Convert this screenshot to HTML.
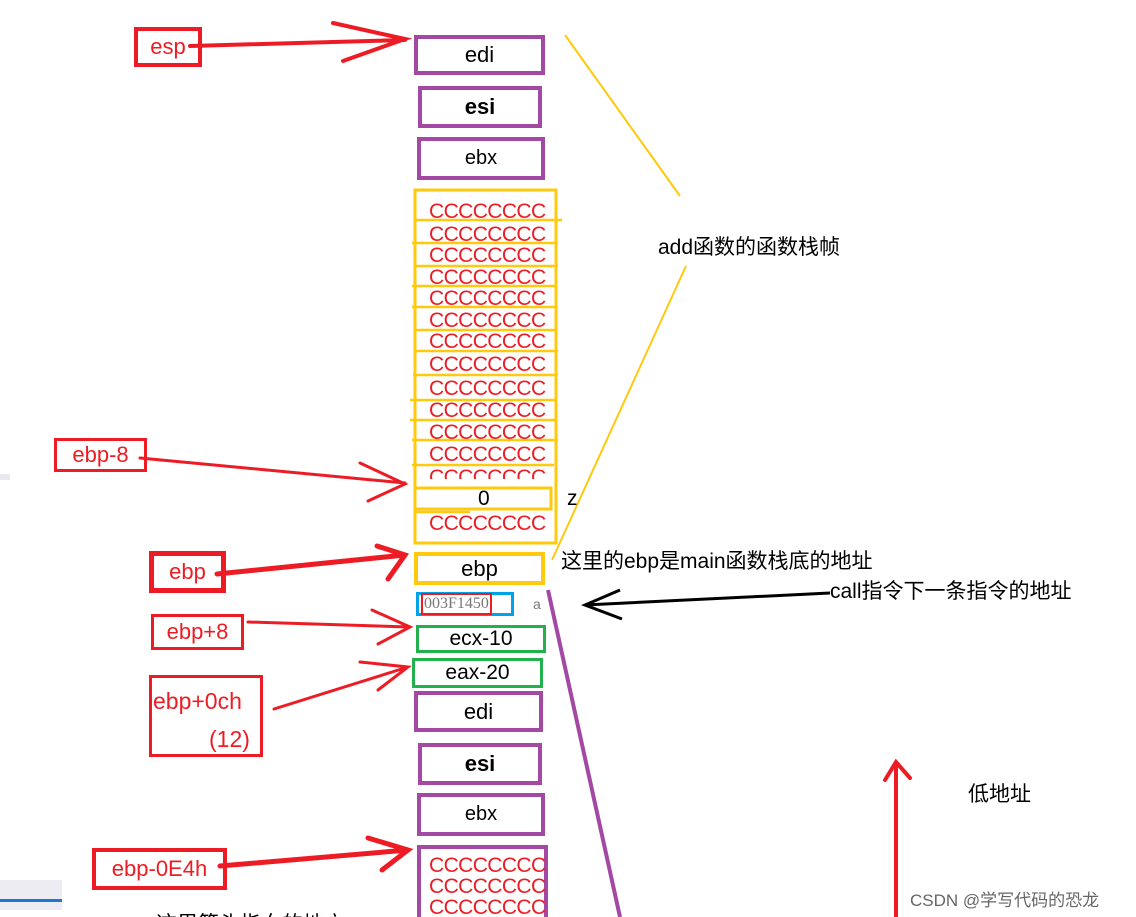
<!DOCTYPE html>
<html><head><meta charset="utf-8"><style>
html,body{margin:0;width:1136px;height:917px;overflow:hidden}
body{background:#fff;position:relative;font-family:"Liberation Sans","Noto Sans CJK SC",sans-serif}
.b{position:absolute;box-sizing:border-box;display:flex;align-items:center;justify-content:center;font-size:22px;color:#000}
.p{border:4px solid #a349a4}
.r{border:4px solid #ed1c24;color:#ed1c24}
.g{border:3px solid #22b14c}
.t{position:absolute;font-size:21px;color:#000;white-space:nowrap}
.c{position:absolute;left:429px;color:#ed1c24;font-size:21px;letter-spacing:-0.6px;line-height:1}
svg{position:absolute;left:0;top:0}
</style></head><body>
<svg width="1136" height="917">
<rect x="0" y="474" width="10" height="6" fill="#e8e8ee"/>
<rect x="0" y="880" width="62" height="30" fill="#ececf2"/>
<rect x="0" y="899" width="62" height="3" fill="#1e78d2"/>
<g stroke="#ffc90e" stroke-width="2" fill="none">
<line x1="565" y1="35" x2="680" y2="196"/>
<line x1="686" y1="266" x2="552" y2="560"/>
</g>
<rect x="415" y="190" width="141" height="353" fill="none" stroke="#ffc90e" stroke-width="3"/>
<g stroke="#ffc90e" stroke-width="2.5">
<line x1="414" y1="220" x2="562" y2="220"/><line x1="412" y1="243" x2="558" y2="243"/>
<line x1="414" y1="266" x2="558" y2="266"/><line x1="412" y1="286" x2="557" y2="286"/>
<line x1="412" y1="307" x2="557" y2="307"/><line x1="414" y1="330" x2="557" y2="330"/>
<line x1="414" y1="351" x2="558" y2="351"/><line x1="413" y1="375" x2="558" y2="375"/>
<line x1="410" y1="400" x2="556" y2="400"/><line x1="410" y1="420" x2="556" y2="420"/>
<line x1="412" y1="440" x2="558" y2="440"/><line x1="412" y1="465" x2="554" y2="465"/>
<line x1="414" y1="512" x2="470" y2="512"/>
</g>
<rect x="415" y="488" width="136" height="21" fill="#fff" stroke="#ffc90e" stroke-width="3"/>
<line x1="548" y1="590" x2="620" y2="917" stroke="#a349a4" stroke-width="4"/>
<g stroke="#ed1c24" fill="none" stroke-linecap="round">
<path d="M190 46 L405 40 M333 23 L405 39 L343 61" stroke-width="4"/>
<path d="M140 458 L405 483 M360 463 L405 484 L368 501" stroke-width="3"/>
<path d="M217 574 L405 555 M377 546 L405 555 L388 579" stroke-width="5"/>
<path d="M248 622 L410 627 M372 610 L410 627 L378 644" stroke-width="3"/>
<path d="M274 709 L408 667 M360 662 L408 667 L378 690" stroke-width="3"/>
<path d="M220 866 L408 850 M368 838 L408 850 L382 870" stroke-width="5"/>
<path d="M896 917 L896 765 M885 780 L896 762 L910 778" stroke-width="4"/>
</g>
<g stroke="#000" fill="none" stroke-width="3">
<path d="M830 593 L585 605 M620 590 L585 605 L622 619"/>
</g>
</svg>
<div class="b r" style="left:134px;top:27px;width:68px;height:40px">esp</div>
<div class="b r" style="left:54px;top:438px;width:93px;height:34px;border-width:3px">ebp-8</div>
<div class="b r" style="left:149px;top:551px;width:77px;height:42px;border-width:5px">ebp</div>
<div class="b r" style="left:151px;top:614px;width:93px;height:36px;border-width:3px">ebp+8</div>
<div class="b r" style="left:149px;top:675px;width:114px;height:82px;border-width:3px;display:block;padding:4px 0 0 1px;line-height:38px;font-size:23px">ebp+0ch<br><span style="padding-left:56px">(12)</span></div>
<div class="b r" style="left:92px;top:848px;width:135px;height:42px">ebp-0E4h</div>
<div class="b p" style="left:414px;top:35px;width:131px;height:40px">edi</div>
<div class="b p" style="left:418px;top:86px;width:124px;height:42px;font-weight:bold">esi</div>
<div class="b p" style="left:417px;top:137px;width:128px;height:43px;font-size:20px">ebx</div>
<div class="c" style="top:201px">CCCCCCCC</div>
<div class="c" style="top:224px">CCCCCCCC</div>
<div class="c" style="top:245px">CCCCCCCC</div>
<div class="c" style="top:267px">CCCCCCCC</div>
<div class="c" style="top:288px">CCCCCCCC</div>
<div class="c" style="top:310px">CCCCCCCC</div>
<div class="c" style="top:331px">CCCCCCCC</div>
<div class="c" style="top:354px">CCCCCCCC</div>
<div class="c" style="top:378px">CCCCCCCC</div>
<div class="c" style="top:400px">CCCCCCCC</div>
<div class="c" style="top:422px">CCCCCCCC</div>
<div class="c" style="top:444px">CCCCCCCC</div>
<div class="c" style="top:467px;height:12px;overflow:hidden">CCCCCCCC</div>
<div class="t" style="left:478px;top:487px">0</div>
<div class="t" style="left:567px;top:487px">z</div>
<div class="c" style="top:513px">CCCCCCCC</div>
<div class="b" style="left:414px;top:552px;width:131px;height:33px;border:4px solid #ffc90e">ebp</div>
<div class="b" style="left:416px;top:592px;width:98px;height:24px;border:3px solid #00a2e8;justify-content:flex-start;padding-left:2px"><span style="border:2px solid #ed1c24;font-family:'Liberation Serif',serif;font-size:16px;color:#777;padding:0 1px">003F1450</span></div>
<div class="t" style="left:533px;top:596px;font-size:14px;color:#777">a</div>
<div class="b g" style="left:416px;top:625px;width:130px;height:28px;font-size:21px">ecx-10</div>
<div class="b g" style="left:412px;top:658px;width:131px;height:30px;font-size:21px">eax-20</div>
<div class="b p" style="left:414px;top:691px;width:129px;height:41px">edi</div>
<div class="b p" style="left:418px;top:743px;width:124px;height:42px;font-weight:bold">esi</div>
<div class="b p" style="left:417px;top:793px;width:128px;height:43px;font-size:20px">ebx</div>
<div class="b p" style="left:417px;top:845px;width:131px;height:90px;display:block;padding:6px 0 0 8px;color:#ed1c24;font-size:21px;line-height:21px;letter-spacing:-0.6px">CCCCCCCC<br>CCCCCCCC<br>CCCCCCCC</div>
<div class="t" style="left:658px;top:231px">add函数的函数栈帧</div>
<div class="t" style="left:561px;top:545px">这里的ebp是main函数栈底的地址</div>
<div class="t" style="left:830px;top:575px">call指令下一条指令的地址</div>
<div class="t" style="left:968px;top:778px">低地址</div>
<div class="t" style="left:156px;top:908px">这里箭头指向的地方</div>
<div class="t" style="left:910px;top:886px;font-size:17px;color:#666">CSDN @学写代码的恐龙</div>
</body></html>
